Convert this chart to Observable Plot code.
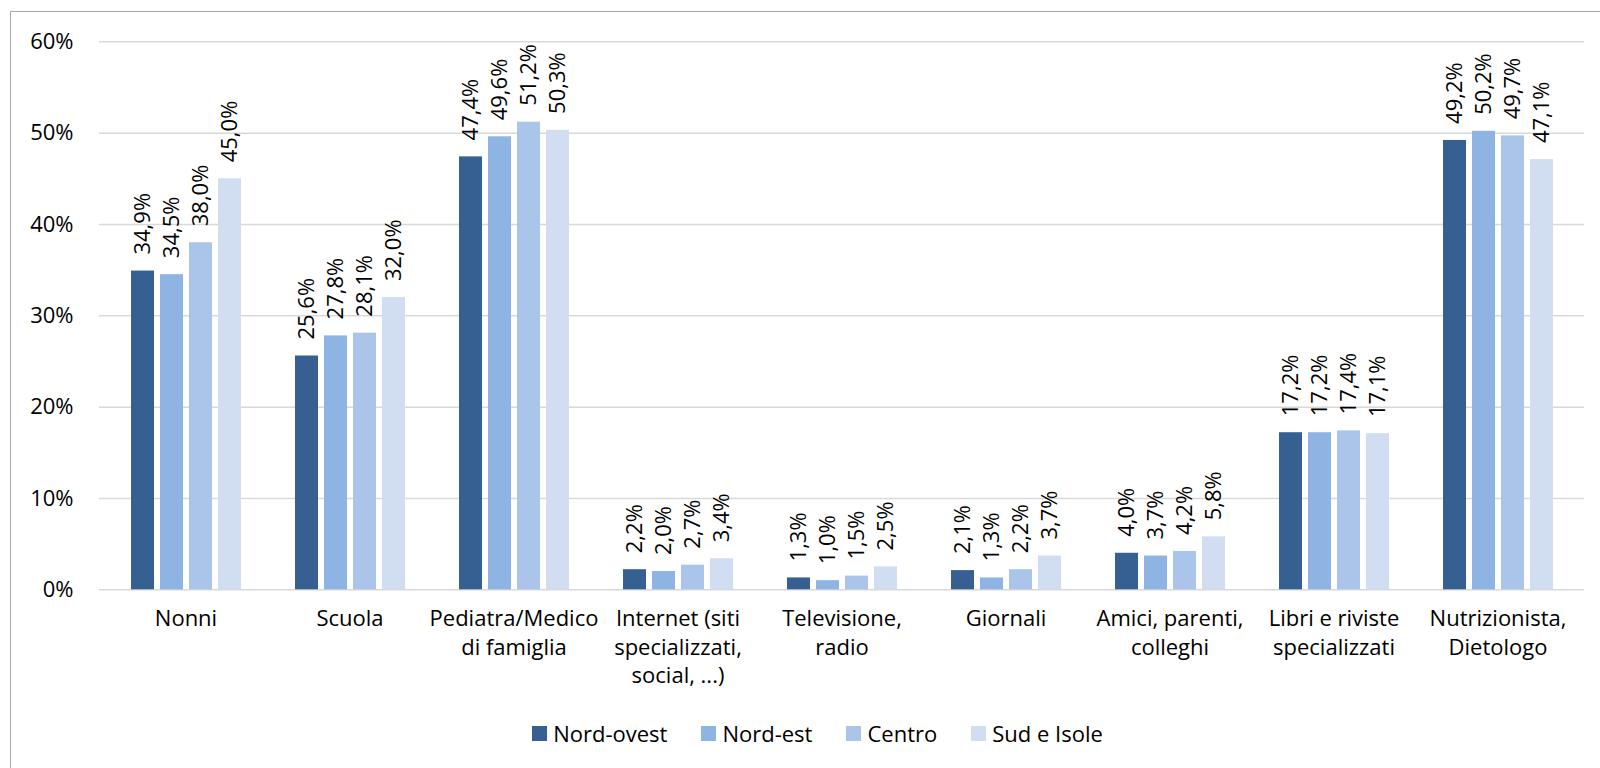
<!DOCTYPE html>
<html>
<head>
<meta charset="utf-8">
<script src="https://cdn.jsdelivr.net/npm/d3@7"></script>
<script src="https://cdn.jsdelivr.net/npm/@observablehq/plot@0.6"></script>
<style>
  body { margin: 0; background: #fff; width: 1600px; height: 768px; overflow: hidden; position: relative; font-family: "Open Sans", sans-serif; }
  #frame { position: absolute; left: 10px; top: 11px; width: 1700px; height: 900px; border: 1px solid #a6a6a6; box-sizing: border-box; }
  #grid, #chart { position: absolute; left: 0; top: 0; }
  #legend { position: absolute; top: 718px; left: 0; width: 1635px; height: 30px; display: flex; justify-content: center; align-items: center; font-size: 22px; color: #000; }
  .item { display: flex; align-items: center; margin: 0 17px; white-space: nowrap; }
  .sw { width: 15px; height: 15px; margin-right: 6px; display: inline-block; }
</style>
</head>
<body>
<div id="frame"></div>
<div id="grid"></div>
<div id="chart"></div>
<div id="legend"></div>
<script>
const categories = [
  "Nonni",
  "Scuola",
  "Pediatra/Medico\ndi famiglia",
  "Internet (siti\nspecializzati,\nsocial, ...)",
  "Televisione,\nradio",
  "Giornali",
  "Amici, parenti,\ncolleghi",
  "Libri e riviste\nspecializzati",
  "Nutrizionista,\nDietologo"
];
const series = ["Nord-ovest", "Nord-est", "Centro", "Sud e Isole"];
const nordOvest = [34.9, 25.6, 47.4, 2.2, 1.3, 2.1, 4.0, 17.2, 49.2];
const nordEst   = [34.5, 27.8, 49.6, 2.0, 1.0, 1.3, 3.7, 17.2, 50.2];
const centro    = [38.0, 28.1, 51.2, 2.7, 1.5, 2.2, 4.2, 17.4, 49.7];
const sudIsole  = [45.0, 32.0, 50.3, 3.4, 2.5, 3.7, 5.8, 17.1, 47.1];
const yTicks = [0, 10, 20, 30, 40, 50, 60];
const colors = ["#376092", "#8eb4e3", "#abc5ea", "#d1def2"];

const seriesValues = [nordOvest, nordEst, centro, sudIsole];
const rows = categories.flatMap((c, i) => series.map((s, j) => ({category: c, series: s, value: seriesValues[j][i]})));
const fmtVal = v => d3.format(".1f")(v).replace(".", ",") + "%";

const common = {
  width: 1600,
  height: 700,
  marginLeft: 99,
  marginRight: 16,
  marginTop: 41.3,
  marginBottom: 110.7,
  style: { fontFamily: "Open Sans", fontSize: "22px", color: "#000", background: "transparent", overflow: "visible" }
};

const grid = Plot.plot({
  ...common,
  x: { domain: [0, 1], axis: null },
  y: { domain: [0, 60], axis: null },
  marks: [
    Plot.ruleY(yTicks, { stroke: "#d9d9d9", strokeWidth: 1.5 }),
    Plot.text(yTicks, { y: d => d, text: d => d + "%", frameAnchor: "left", textAnchor: "end", dx: -26, fontSize: 22, fill: "#000" })
  ]
});
document.getElementById("grid").appendChild(grid);

const chart = Plot.plot({
  ...common,
  fx: { domain: categories, paddingInner: 0.2727, paddingOuter: 0.1364, label: null },
  x: { domain: series, paddingInner: 0.222, paddingOuter: 0.111, axis: null },
  y: { domain: [0, 60], axis: null },
  color: { domain: series, range: colors },
  marks: [
    Plot.barY(rows, { fx: "category", x: "series", y: "value", fill: "series" }),
    Plot.text(rows, { fx: "category", x: "series", y: "value", text: d => fmtVal(d.value), rotate: -90, textAnchor: "start", lineAnchor: "middle", dy: -16.5, fontSize: 22, fill: "#000" }),
    Plot.axisFx({ anchor: "bottom", tickSize: 0, tickPadding: 16, label: null, lineHeight: 1.3, fontSize: 22, fill: "#000" })
  ]
});
document.getElementById("chart").appendChild(chart);

const legend = document.getElementById("legend");
series.forEach((s, i) => {
  const item = document.createElement("div");
  item.className = "item";
  const sw = document.createElement("span");
  sw.className = "sw";
  sw.style.background = colors[i];
  item.appendChild(sw);
  item.appendChild(document.createTextNode(s));
  legend.appendChild(item);
});
</script>
</body>
</html>
